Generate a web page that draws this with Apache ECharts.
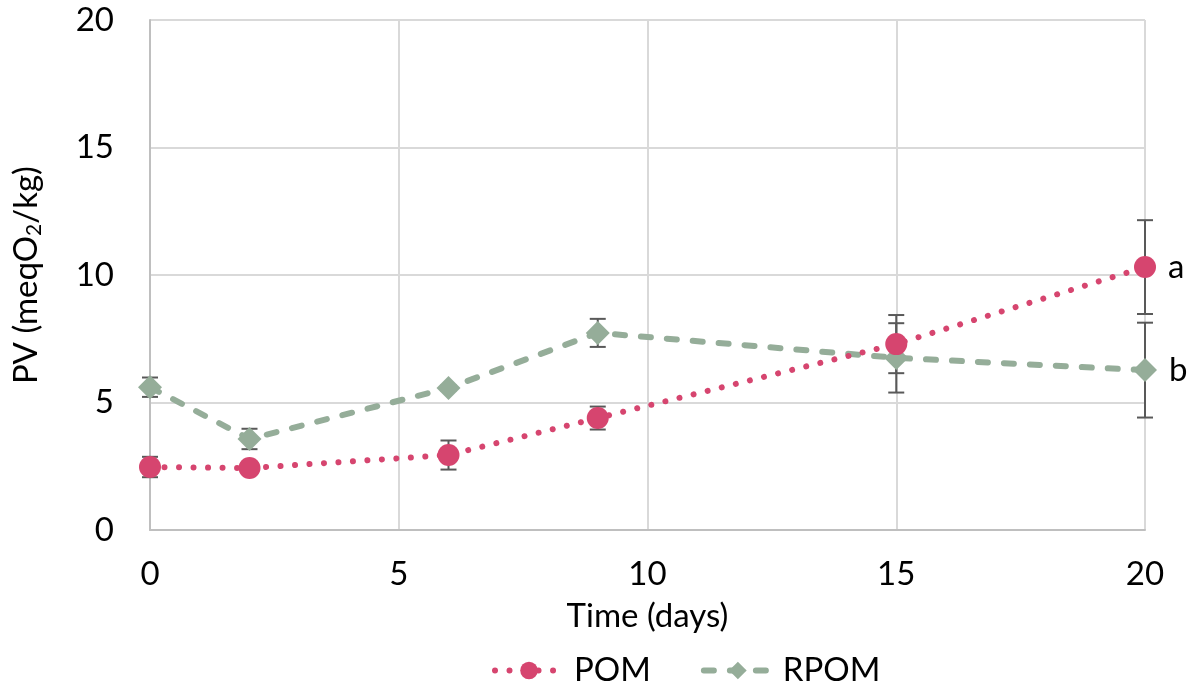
<!DOCTYPE html>
<html>
<head>
<meta charset="utf-8">
<script src="https://cdn.jsdelivr.net/npm/echarts@6/dist/echarts.min.js"></script>
<style>html,body{margin:0;padding:0;background:#fff}#c{width:1191px;height:692px}</style>
</head>
<body>
<div id="c"></div>
<script>
const days = [0, 2, 6, 9, 15, 20];
const pomValues = [2.47, 2.43, 2.94, 4.39, 7.29, 10.31];
const pomErrors = [0.4, 0.1, 0.57, 0.45, 1.14, 1.84];
const rpomValues = [5.6, 3.57, 5.57, 7.73, 6.75, 6.27];
const rpomErrors = [0.38, 0.4, 0.1, 0.55, 1.36, 1.86];
const groupLetters = ['a', 'b'];
const xTicks = [0, 5, 10, 15, 20];
const yTicks = [0, 5, 10, 15, 20];

const FONT = 'Lato, "Open Sans", sans-serif';
const FS = 33;
const pink = '#d6456f';
const green = '#95ad99';

function pairs(vals) { return days.map((d, i) => [d, vals[i]]); }
function errData(vals, errs) { return days.map((d, i) => [d, vals[i] - errs[i], vals[i] + errs[i]]); }

function errorSeries(vals, errs) {
  return {
    type: 'custom',
    silent: true,
    z: 1,
    data: errData(vals, errs),
    renderItem: function (params, api) {
      const x = api.value(0);
      const lo = api.coord([x, api.value(1)]);
      const hi = api.coord([x, api.value(2)]);
      const w = 8;
      const st = { stroke: '#595959', lineWidth: 2 };
      return {
        type: 'group',
        children: [
          { type: 'line', shape: { x1: lo[0], y1: lo[1], x2: hi[0], y2: hi[1] }, style: st },
          { type: 'line', shape: { x1: lo[0] - w, y1: lo[1], x2: lo[0] + w, y2: lo[1] }, style: st },
          { type: 'line', shape: { x1: hi[0] - w, y1: hi[1], x2: hi[0] + w, y2: hi[1] }, style: st }
        ]
      };
    }
  };
}

function letterLabel(letter) {
  return {
    show: true,
    position: 'right',
    distance: 12,
    fontSize: FS,
    fontFamily: FONT,
    color: '#000',
    formatter: p => (p.dataIndex === days.length - 1 ? letter : '')
  };
}

const chart = echarts.init(document.getElementById('c'), null, { renderer: 'canvas' });
chart.setOption({
  animation: false,
  textStyle: { fontFamily: FONT },
  grid: { left: 150, right: 46, top: 20, bottom: 162 },
  xAxis: {
    type: 'value', min: 0, max: 20, interval: 5,
    name: 'Time (days)', nameLocation: 'middle', nameGap: 70,
    nameTextStyle: { fontSize: FS, color: '#000', fontFamily: FONT },
    axisLine: { show: true, lineStyle: { color: '#bfbfbf', width: 2 } },
    axisTick: { show: false },
    axisLabel: { fontSize: FS, color: '#000', margin: 28, fontFamily: FONT,
      formatter: v => (xTicks.includes(v) ? String(v) : '') },
    splitLine: { show: true, lineStyle: { color: '#d9d9d9', width: 2 } }
  },
  yAxis: {
    type: 'value', min: 0, max: 20, interval: 5,
    name: '{a|PV (meqO}{s|2}{a|/kg)}', nameLocation: 'middle', nameGap: 105,
    nameTextStyle: {
      fontFamily: FONT,
      rich: {
        a: { fontSize: FS, color: '#000', fontFamily: FONT },
        s: { fontSize: 21, color: '#000', fontFamily: FONT, verticalAlign: 'bottom', padding: [16, 0, 0, 0] }
      }
    },
    axisLine: { show: true, lineStyle: { color: '#bfbfbf', width: 2 } },
    axisTick: { show: false },
    axisLabel: { fontSize: FS, color: '#000', margin: 36, fontFamily: FONT,
      formatter: v => (yTicks.includes(v) ? String(v) : '') },
    splitLine: { show: true, lineStyle: { color: '#d9d9d9', width: 2 } }
  },
  legend: {
    bottom: 0, left: 487, itemGap: 50, itemWidth: 68, itemHeight: 22,
    textStyle: { fontSize: FS, color: '#000', fontFamily: FONT, padding: [0, 0, 0, 6] },
    lineStyle: { width: 6 },
    data: ['POM', 'RPOM']
  },
  series: [
    errorSeries(pomValues, pomErrors),
    errorSeries(rpomValues, rpomErrors),
    {
      name: 'RPOM', type: 'line', z: 2,
      data: pairs(rpomValues),
      symbol: 'diamond', symbolSize: 24,
      itemStyle: { color: green },
      lineStyle: { color: green, width: 6, type: [10, 16], cap: 'round' },
      label: letterLabel(groupLetters[1])
    },
    {
      name: 'POM', type: 'line', z: 3,
      data: pairs(pomValues),
      symbol: 'circle', symbolSize: 22,
      itemStyle: { color: pink },
      lineStyle: { color: pink, width: 6, type: [0.01, 14.5], cap: 'round' },
      label: letterLabel(groupLetters[0])
    }
  ]
});
</script>
</body>
</html>
